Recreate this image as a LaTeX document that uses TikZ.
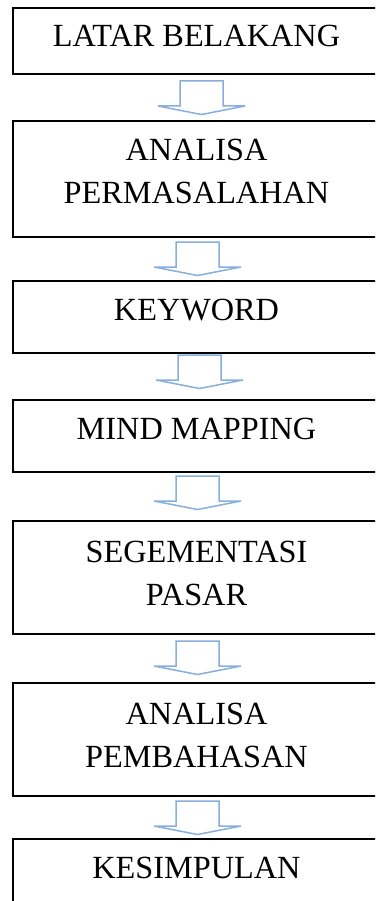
\documentclass[tikz,border=0pt]{standalone}
\usepackage{fontspec}
\setmainfont{Liberation Serif}
\definecolor{arrowblue}{RGB}{136,174,222}
\begin{document}
\begin{tikzpicture}[x=1pt,y=-1pt,
  box/.style={draw=black, line width=2pt, rectangle, anchor=north west,
    inner sep=0pt, minimum width=375pt},
  lbl/.style={anchor=base, inner sep=0pt, font=\fontsize{32.3}{38}\selectfont},
  flowarrow/.style={draw=arrowblue, line width=1.5pt, line join=miter},
  pics/downarrow/.style={code={
    \draw[flowarrow] (-21.5,0) -- (-21.5,25) -- (-43.5,25) -- (0,33.5)
      -- (43.5,25) -- (21.5,25) -- (21.5,0) -- cycle;}}]
  \clip (0,0) rectangle (375,901);
  \fill[white] (0,0) rectangle (375,901);

  % process boxes (open to the right edge)
  \node[box, minimum height=66pt]  (b1) at (11.5,7)   {};
  \node[box, minimum height=116pt] (b2) at (11.5,120) {};
  \node[box, minimum height=72pt]  (b3) at (11.5,280) {};
  \node[box, minimum height=72pt]  (b4) at (11.5,399) {};
  \node[box, minimum height=113pt] (b5) at (11.5,520) {};
  \node[box, minimum height=113pt] (b6) at (11.5,682) {};
  \node[box, minimum height=80pt]  (b7) at (11.5,838) {};

  % box labels
  \node[lbl] (t1)  at (196.5,47)  {LATAR BELAKANG};
  \node[lbl] (t2a) at (196.5,161) {ANALISA};
  \node[lbl] (t2b) at (196.5,204) {PERMASALAHAN};
  \node[lbl] (t3)  at (196.5,320) {KEYWORD};
  \node[lbl] (t4)  at (196.5,439) {MIND MAPPING};
  \node[lbl] (t5a) at (196.5,562) {SEGEMENTASI};
  \node[lbl] (t5b) at (196.5,605) {PASAR};
  \node[lbl] (t6a) at (196.5,724) {ANALISA};
  \node[lbl] (t6b) at (196.5,767) {PEMBAHASAN};
  \node[lbl] (t7)  at (196.5,878) {KESIMPULAN};

  % block arrows between consecutive boxes
  \pic (a1) at (201.5,81)  {downarrow};
  \pic (a2) at (197.5,242) {downarrow};
  \pic (a3) at (199.5,355) {downarrow};
  \pic (a4) at (197.5,476) {downarrow};
  \pic (a5) at (197.5,641) {downarrow};
  \pic (a6) at (197.5,801) {downarrow};
\end{tikzpicture}
\end{document}
